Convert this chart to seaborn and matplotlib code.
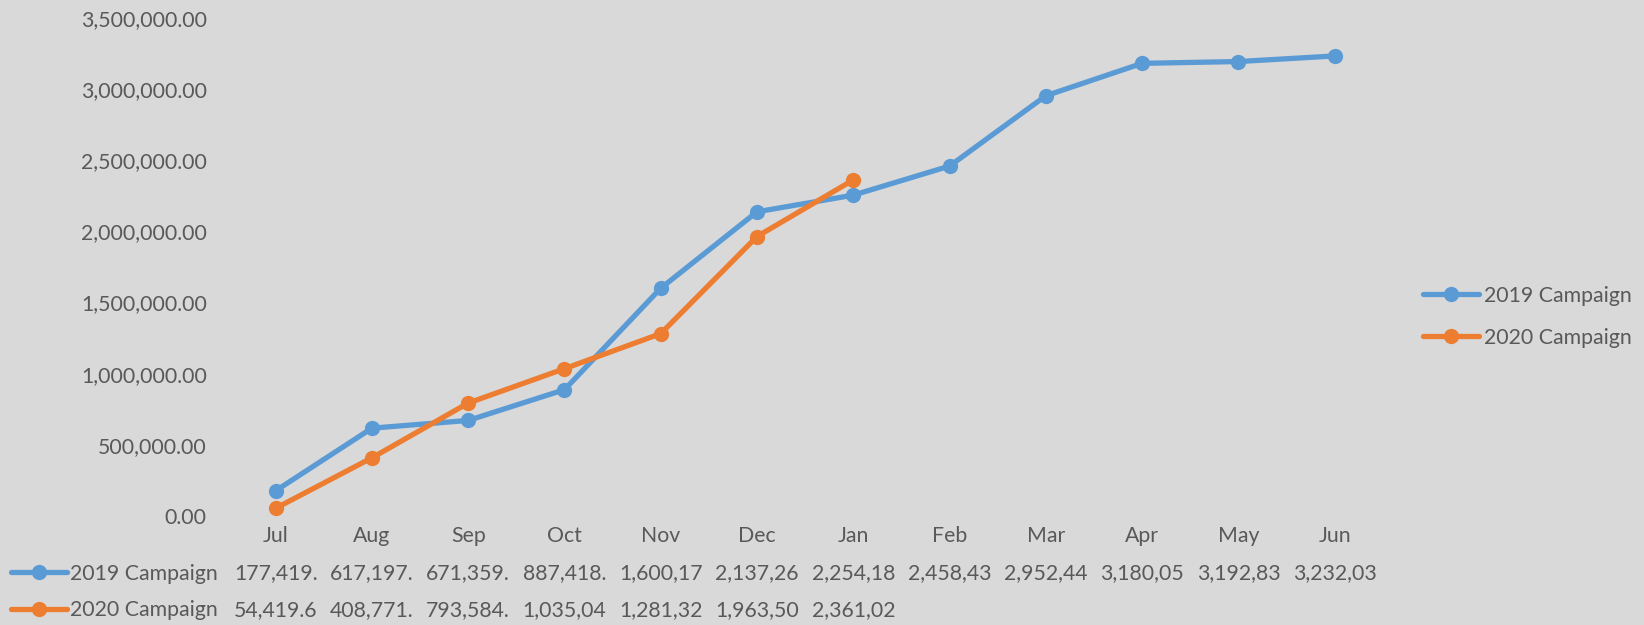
import numpy as np
import pandas as pd
import matplotlib
matplotlib.use("Agg")
import matplotlib.pyplot as plt
import seaborn as sns
from matplotlib.transforms import blended_transform_factory

# ---- data ----
months = ["Jul", "Aug", "Sep", "Oct", "Nov", "Dec", "Jan", "Feb", "Mar", "Apr", "May", "Jun"]
series_names = ["2019 Campaign", "2020 Campaign"]
values_2019 = [177419.0, 617197.0, 671359.0, 887418.0, 1600170.0, 2137260.0,
               2254180.0, 2458430.0, 2952440.0, 3180050.0, 3192830.0, 3232030.0]
values_2020 = [54419.6, 408771.0, 793584.0, 1035040.0, 1281320.0, 1963500.0, 2361020.0]
yticks = [0, 500000, 1000000, 1500000, 2000000, 2500000, 3000000, 3500000]
colors = ["#5B9BD5", "#ED7D31"]

bg = "#D9D9D9"
txt = "#595959"
FONT = ["Lato", "DejaVu Sans"]
FS = 15.3

sns.set_theme(style="white")
plt.rcParams["font.family"] = FONT

rows = []
for name, vals in zip(series_names, [values_2019, values_2020]):
    for i, v in enumerate(vals):
        rows.append({"pos": i, "month": months[i], "value": v, "series": name})
df = pd.DataFrame(rows)

fig = plt.figure(figsize=(16.44, 6.25), dpi=100, facecolor=bg)
ax = fig.add_axes([0.1384, 0.1744, 0.8411 - 0.1384, 0.9715 - 0.1744])
ax.set_facecolor(bg)

sns.lineplot(data=df, x="pos", y="value", hue="series", hue_order=series_names,
             palette=colors, marker="o", markersize=11, markeredgewidth=0,
             linewidth=3.8, ax=ax, legend=False, sort=False)

ax.set_xlim(-0.5, len(months) - 0.5)
ax.set_ylim(yticks[0], yticks[-1])
ax.set_yticks(yticks)
ax.set_yticklabels([f"{v:,.2f}" for v in yticks], fontsize=FS, color=txt)
ax.tick_params(axis="y", length=0, pad=15)
ax.set_xticks([])
ax.set_xlabel("")
ax.set_ylabel("")
for s in ax.spines.values():
    s.set_visible(False)
ax.grid(False)

# ---- data table below ----
tr = blended_transform_factory(ax.transData, fig.transFigure)
y_month, y_r1, y_r2 = 0.1427, 0.0824, 0.0237
for i, m in enumerate(months):
    ax.text(i, y_month, m, transform=tr, ha="center", va="center", fontsize=FS, color=txt, clip_on=False)
for vals, yy in zip([values_2019, values_2020], [y_r1, y_r2]):
    for i, v in enumerate(vals):
        s = f"{v:,.2f}"[:8]
        ax.text(i, yy, s, transform=tr, ha="center", va="center", fontsize=FS, color=txt, clip_on=False)

handles = ax.lines[:2]

# row keys of the data table
for h, name, yy in zip(handles, series_names, [y_r1, y_r2]):
    fig.legend([h], [name], loc="center left", bbox_to_anchor=(10.5 / 1644, yy),
               frameon=False, fontsize=FS, labelcolor=txt, handlelength=2.65,
               handletextpad=0.15, borderpad=0, borderaxespad=0)

# right legend
fig.legend(handles, series_names, loc="center left",
           bbox_to_anchor=(1423 / 1644, (0.5286 + 0.4581) / 2),
           frameon=False, fontsize=FS, labelcolor=txt, handlelength=2.65,
           handletextpad=0.22, borderpad=0, borderaxespad=0, labelspacing=1.05)

fig.savefig("out.png", dpi=100, facecolor=bg)
